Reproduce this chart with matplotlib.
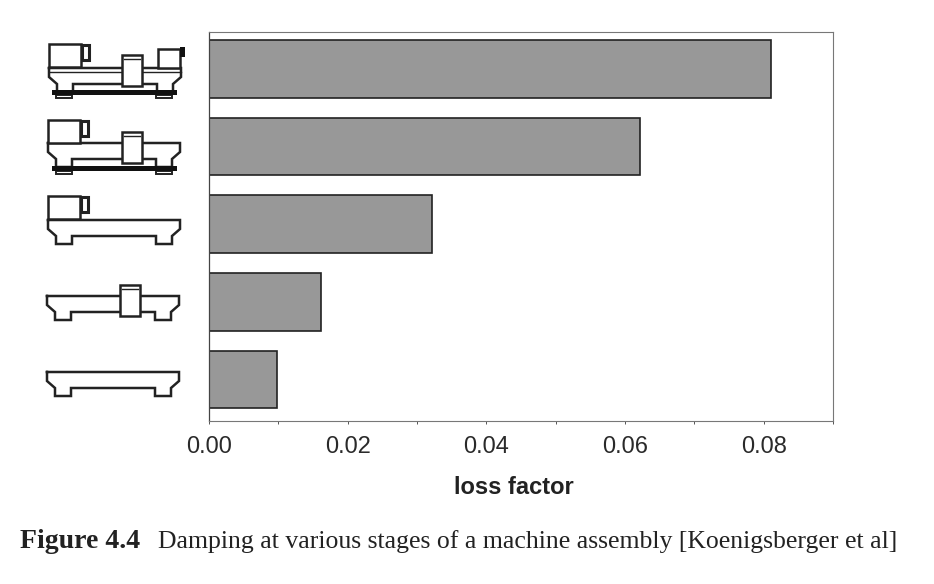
#!/usr/bin/env python3

import matplotlib
matplotlib.use('Agg')
import matplotlib.pyplot as plt
from matplotlib.patches import Rectangle
from matplotlib.ticker import MultipleLocator

# ---------------- DATA ----------------
stages = ['full assembly', 'without tailstock', 'bed and headstock', 'bed and slide', 'bed only']
loss_factor = [0.0811, 0.0622, 0.0322, 0.0162, 0.0098]
x_ticks = [0.00, 0.02, 0.04, 0.06, 0.08]

W, H = 934, 584
INK = '#222222'

fig = plt.figure(figsize=(W / 100, H / 100), dpi=100)
fig.patch.set_facecolor('white')

# axes box in pixels: x 209-833, y 32-421
ax = fig.add_axes([209 / W, 1 - 421 / H, 624 / W, 389 / H])

ax.barh(
    range(len(stages)),
    loss_factor,
    height=0.74,
    color='#989898',
    edgecolor=INK,
    linewidth=1.2
)

ax.set_xlim(0, 0.09)
ax.set_ylim(4.535, -0.475)
ax.set_yticks([])
ax.set_xticks(x_ticks)
ax.set_xticklabels([f'{t:.2f}' for t in x_ticks], fontsize=17, family='Liberation Sans', color='#2a2a2a')
ax.xaxis.set_minor_locator(MultipleLocator(0.01))
ax.tick_params(axis='x', which='both', length=2.5, width=0.7, color='#555555', pad=8.5)

for side in ['top', 'right', 'bottom']:
    ax.spines[side].set_color('#777777')
    ax.spines[side].set_linewidth(0.8)
ax.spines['left'].set_color('#444444')
ax.spines['left'].set_linewidth(0.9)

# ---------------- OVERLAY IN PIXELS ----------------
ov = fig.add_axes([0, 0, 1, 1])
ov.set_xlim(0, W)
ov.set_ylim(H, 0)
ov.axis('off')
ov.patch.set_alpha(0)

ov.text(514, 488, 'loss factor', fontsize=17, fontweight='bold',
        family='Liberation Sans', ha='center', va='center', color='#222222')

ov.text(20, 548, 'Figure 4.4', fontsize=20, fontweight='bold',
        family='Liberation Serif', ha='left', va='baseline', color='#222222')
ov.text(158, 548, 'Damping at various stages of a machine assembly [Koenigsberger et al]',
        fontsize=18.5, family='Liberation Serif', ha='left', va='baseline', color='#222222')


# machine sketches on the left
def bed(x, y):
    px = [0, 132, 132, 124, 124, 108, 108, 24, 24, 8, 8, 0, 0]
    py = [0, 0, 9, 16, 24, 24, 16, 16, 24, 24, 16, 9, 0]
    ov.plot([x + p for p in px], [y + p for p in py], color=INK, lw=1.8, solid_joinstyle='miter')


def box(x0, y0, x1, y1, lw=1.8, fc='white', z=3):
    ov.add_patch(Rectangle((x0, y0), x1 - x0, y1 - y0, fc=fc, ec=INK, lw=lw, zorder=z))


def head(x, y):
    box(x, y, x + 32, y + 23)
    box(x + 33, y + 1, x + 40, y + 16, lw=2.2)


def slide(x, y):
    box(x, y, x + 20, y + 31)
    ov.plot([x + 2, x + 18], [y + 4, y + 4], color=INK, lw=1.0, zorder=4)


def plate(y):
    ov.add_patch(Rectangle((52, y), 125, 4.5, fc='#111111', ec='none', zorder=4))
    box(56, y + 4.5, 72, y + 8, lw=1.4)
    box(156, y + 4.5, 172, y + 8, lw=1.4)


bed(47, 372)

bed(47, 296)
slide(120, 285)

bed(48, 220)
head(48, 196)

bed(48, 143)
head(48, 120)
slide(122, 132)
plate(166)

bed(49, 68)
ov.plot([49, 181], [72, 72], color=INK, lw=1.0)
head(49, 44)
slide(122, 55)
box(158, 49, 180, 68)
ov.add_patch(Rectangle((180, 47), 5, 10, fc='#111111', ec='none', zorder=4))
plate(90)

plt.savefig('out.png', dpi=100)
